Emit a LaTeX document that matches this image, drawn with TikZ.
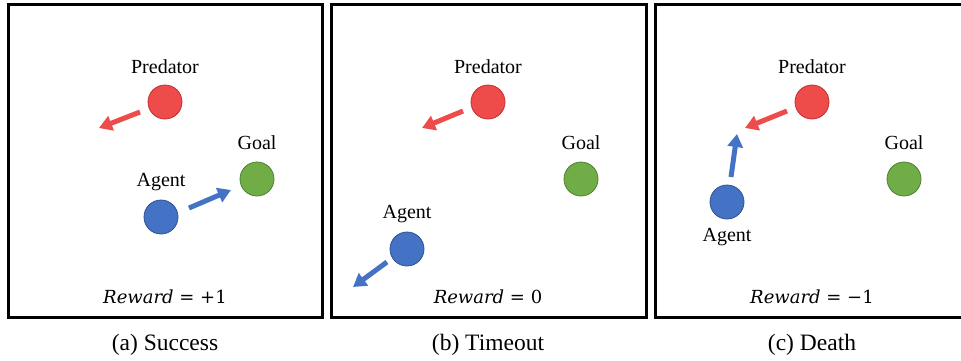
\documentclass[tikz,border=0pt]{standalone}
\usepackage{fontspec}
\setmainfont{Liberation Serif}
\newfontfamily\rewardfont{DejaVu Serif}
\usetikzlibrary{arrows.meta}
\definecolor{predfill}{HTML}{EE4B4B}
\definecolor{preddraw}{HTML}{C0302F}
\definecolor{agentfill}{HTML}{4472C4}
\definecolor{agentdraw}{HTML}{2F528F}
\definecolor{goalfill}{HTML}{70AD47}
\definecolor{goaldraw}{HTML}{507E32}
\tikzset{
  panel/.style={draw=black, line width=3pt},
  dot/.style={circle, minimum size=34pt, inner sep=0pt, line width=0.8pt},
  preddot/.style={dot, fill=predfill, draw=preddraw},
  agentdot/.style={dot, fill=agentfill, draw=agentdraw},
  goaldot/.style={dot, fill=goalfill, draw=goaldraw},
  lbl/.style={font=\fontsize{20}{22}\selectfont, inner sep=0pt},
  captext/.style={font=\fontsize{23.5}{26}\selectfont, inner sep=0pt},
  rew/.style={font=\rewardfont\fontsize{18}{20}\selectfont, inner sep=0pt},
  movearrow/.style={line width=5pt, -{Triangle[length=13pt,width=15pt]}},
  predarrow/.style={movearrow, draw=predfill},
  agentarrow/.style={movearrow, draw=agentfill}
}
\begin{document}
\begin{tikzpicture}[x=1pt,y=-1pt]
\useasboundingbox (0,0) rectangle (961,360);
\clip (0,0) rectangle (961,360);
% panels
\draw[panel] (8,4) rectangle (322,317);
\draw[panel] (331,4) rectangle (646,317);
\draw[panel] (655,4) rectangle (966,317);

% ---- panel (a)
\node[lbl] (pa-l) at (165,67) {Predator};
\node[preddot] (pa) at (165,102) {};
\coordinate (pa-s) at (140,112);
\coordinate (pa-t) at (99,128);
\draw[predarrow] (pa-s) -- (pa-t);
\node[lbl] (ga-l) at (257,143) {Goal};
\node[goaldot] (ga) at (257,179) {};
\node[lbl] (aa-l) at (161,182) {Agent};
\node[agentdot] (aa) at (161,217) {};
\coordinate (aa-s) at (189,208);
\coordinate (aa-t) at (231,190);
\draw[agentarrow] (aa-s) -- (aa-t);
\node[rew] (ra) at (165,297) {\textit{Reward} = +1};
\node[captext] (ca) at (165,345) {(a) Success};

% ---- panel (b)
\node[lbl] (pb-l) at (488,67) {Predator};
\node[preddot] (pb) at (488,102) {};
\coordinate (pb-s) at (463,111);
\coordinate (pb-t) at (422,128);
\draw[predarrow] (pb-s) -- (pb-t);
\node[lbl] (gb-l) at (581,143) {Goal};
\node[goaldot] (gb) at (581,179) {};
\node[lbl] (ab-l) at (407,214) {Agent};
\node[agentdot] (ab) at (407,249) {};
\coordinate (ab-s) at (387,262);
\coordinate (ab-t) at (353,287);
\draw[agentarrow] (ab-s) -- (ab-t);
\node[rew] (rb) at (488,297) {\textit{Reward} = 0};
\node[captext] (cb) at (488,345) {(b) Timeout};

% ---- panel (c)
\node[lbl] (pc-l) at (812,67) {Predator};
\node[preddot] (pc) at (812,102) {};
\coordinate (pc-s) at (787,111);
\coordinate (pc-t) at (745,128);
\draw[predarrow] (pc-s) -- (pc-t);
\node[lbl] (gc-l) at (904,143) {Goal};
\node[goaldot] (gc) at (904,179) {};
\node[agentdot] (ac) at (727,202) {};
\node[lbl] (ac-l) at (727,237) {Agent};
\coordinate (ac-s) at (731,177);
\coordinate (ac-t) at (737,134);
\draw[agentarrow] (ac-s) -- (ac-t);
\node[rew] (rc) at (812,297) {\textit{Reward} = −1};
\node[captext] (cc) at (812,345) {(c) Death};
\end{tikzpicture}
\end{document}
